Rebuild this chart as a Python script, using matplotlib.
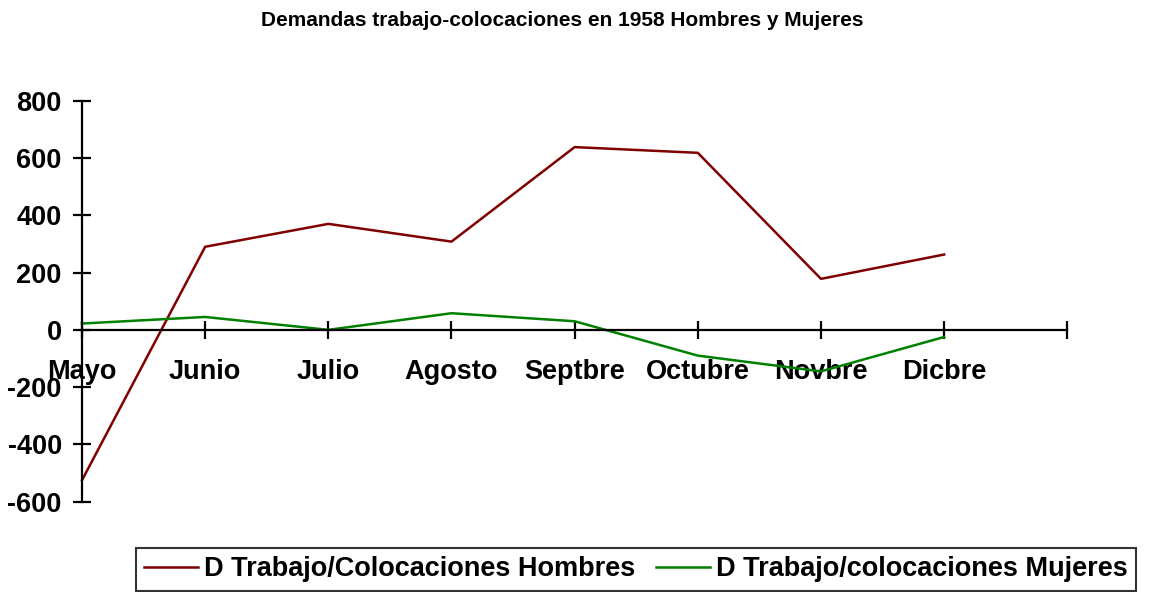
import matplotlib
matplotlib.use("Agg")
import matplotlib.pyplot as plt

months = ["Mayo", "Junio", "Julio", "Agosto", "Septbre", "Octubre", "Novbre", "Dicbre"]
hombres = [-525, 290, 370, 308, 638, 618, 178, 263]
mujeres = [22, 45, 0, 58, 30, -90, -145, -25]
yticks = [-600, -400, -200, 0, 200, 400, 600, 800]
title = "Demandas trabajo-colocaciones en 1958 Hombres y Mujeres"
label_h = "D Trabajo/Colocaciones Hombres"
label_m = "D Trabajo/colocaciones Mujeres"

plt.rcParams['font.family'] = ['Liberation Sans', 'DejaVu Sans']
plt.rcParams['font.weight'] = 'bold'

fig = plt.figure(figsize=(11.49, 5.92), dpi=100)
ax = fig.add_axes([82/1149, 1 - 501.7/592, (1067.3-82)/1149, (501.7-100.7)/592])

for s in ["top", "right"]:
    ax.spines[s].set_visible(False)
ax.spines["bottom"].set_position(("data", 0))
ax.spines["bottom"].set_linewidth(1.6)
ax.spines["left"].set_linewidth(1.6)

x = list(range(len(months)))
ax.plot(x, hombres, color="#800000", lw=1.8, label=label_h, clip_on=False)
ax.plot(x, mujeres, color="#008000", lw=1.8, label=label_m, clip_on=False)

ax.set_xlim(0, len(months))
ax.set_ylim(-600, 800)
ax.set_yticks(yticks)
ax.set_yticklabels([str(v) for v in yticks])
ax.set_xticks(list(range(len(months) + 1)))
ax.set_xticklabels(months + [""])
ax.tick_params(axis='y', direction='inout', length=13, width=1.6, pad=8, labelsize=19.5)
ax.tick_params(axis='x', direction='inout', length=13, width=1.6, pad=14.5, labelsize=19.5)
for lab in ax.get_xticklabels() + ax.get_yticklabels():
    lab.set_fontweight('bold')
ax.set_facecolor('none')

fig.text(562/1149, 1 - 20/592, title, ha='center', va='center', fontsize=15, fontweight='bold')

leg = fig.legend(loc='center', bbox_to_anchor=(636/1149, 1 - 569.5/592), ncol=2,
                 fontsize=19.5, frameon=True, fancybox=False, edgecolor='black',
                 handlelength=2.0, handletextpad=0.22, columnspacing=0.78, borderpad=0.3)
leg.get_frame().set_linewidth(1.5)
for t in leg.get_texts():
    t.set_fontweight('bold')
for l in leg.get_lines():
    l.set_linewidth(1.8)

fig.savefig("out.png", dpi=100)
